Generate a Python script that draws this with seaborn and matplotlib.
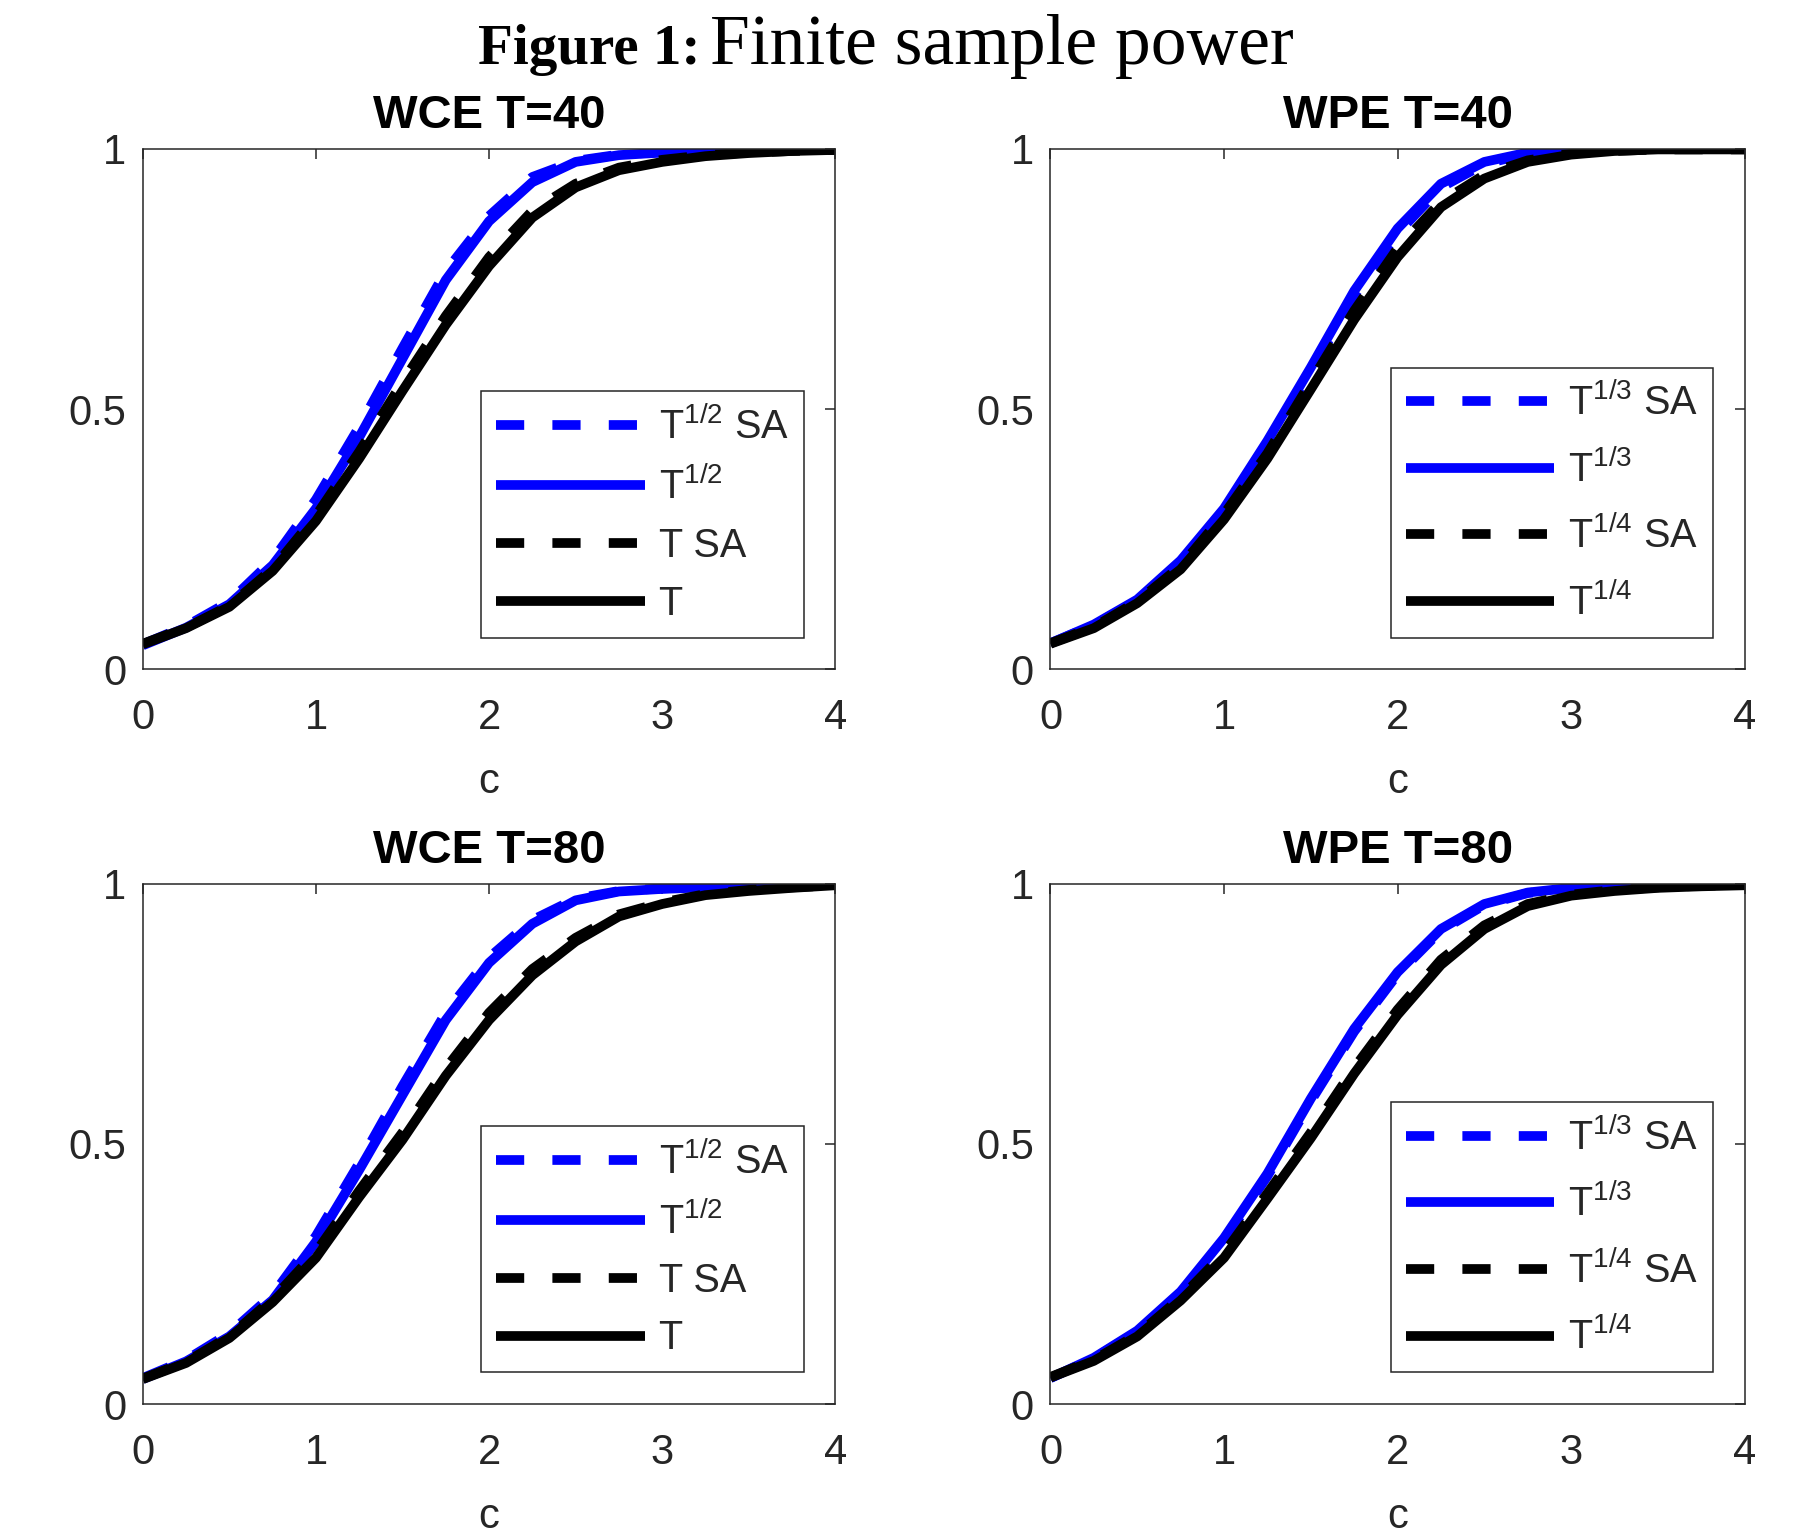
# -*- coding: utf-8 -*-
import numpy as np
import pandas as pd
import matplotlib
matplotlib.use('Agg')
import matplotlib.pyplot as plt
import seaborn as sns

# 横轴 c
c = [0, 0.25, 0.5, 0.75, 1.0, 1.25, 1.5, 1.75, 2.0, 2.25, 2.5, 2.75, 3.0, 3.25, 3.5, 3.75, 4.0]

# WCE T=40
wce40_half_sa = [0.048, 0.083, 0.130, 0.210, 0.326, 0.466, 0.617, 0.765, 0.871, 0.946, 0.977, 0.989, 0.994, 0.997, 0.998, 0.999, 0.999]
wce40_half = [0.046, 0.080, 0.125, 0.200, 0.309, 0.446, 0.597, 0.748, 0.861, 0.936, 0.975, 0.988, 0.993, 0.996, 0.998, 0.999, 0.999]
wce40_t_sa = [0.049, 0.080, 0.122, 0.193, 0.295, 0.418, 0.552, 0.679, 0.792, 0.881, 0.933, 0.964, 0.979, 0.988, 0.993, 0.996, 0.998]
wce40_t = [0.048, 0.079, 0.120, 0.189, 0.285, 0.405, 0.535, 0.662, 0.775, 0.868, 0.926, 0.959, 0.975, 0.986, 0.992, 0.996, 0.998]

# WPE T=40
wpe40_third_sa = [0.050, 0.085, 0.132, 0.205, 0.303, 0.430, 0.572, 0.718, 0.838, 0.926, 0.971, 0.991, 0.996, 0.999, 1.0, 1.0, 1.0]
wpe40_third = [0.050, 0.086, 0.134, 0.209, 0.309, 0.439, 0.580, 0.727, 0.847, 0.933, 0.975, 0.993, 0.997, 1.0, 1.0, 1.0, 1.0]
wpe40_quarter_sa = [0.050, 0.081, 0.130, 0.198, 0.298, 0.415, 0.552, 0.689, 0.809, 0.898, 0.950, 0.978, 0.991, 0.996, 0.999, 0.999, 0.999]
wpe40_quarter = [0.049, 0.079, 0.127, 0.192, 0.288, 0.405, 0.538, 0.672, 0.792, 0.888, 0.943, 0.975, 0.989, 0.996, 0.999, 0.999, 0.999]

# WCE T=80
wce80_half_sa = [0.050, 0.085, 0.136, 0.210, 0.323, 0.463, 0.611, 0.752, 0.858, 0.930, 0.971, 0.986, 0.991, 0.994, 0.996, 0.998, 1.0]
wce80_half = [0.048, 0.082, 0.130, 0.200, 0.312, 0.450, 0.594, 0.738, 0.848, 0.923, 0.968, 0.985, 0.990, 0.993, 0.995, 0.998, 1.0]
wce80_t_sa = [0.049, 0.081, 0.130, 0.202, 0.292, 0.410, 0.522, 0.645, 0.752, 0.836, 0.896, 0.941, 0.964, 0.980, 0.988, 0.993, 0.997]
wce80_t = [0.048, 0.079, 0.127, 0.196, 0.281, 0.398, 0.508, 0.631, 0.738, 0.824, 0.889, 0.937, 0.961, 0.978, 0.986, 0.992, 0.997]

# WPE T=80
wpe80_third_sa = [0.050, 0.088, 0.139, 0.213, 0.315, 0.438, 0.582, 0.716, 0.826, 0.910, 0.959, 0.982, 0.991, 0.995, 0.997, 0.998, 0.999]
wpe80_third = [0.050, 0.089, 0.141, 0.216, 0.319, 0.443, 0.587, 0.721, 0.830, 0.913, 0.961, 0.983, 0.992, 0.995, 0.997, 0.998, 0.999]
wpe80_quarter_sa = [0.052, 0.085, 0.133, 0.204, 0.290, 0.405, 0.522, 0.646, 0.758, 0.854, 0.920, 0.961, 0.979, 0.988, 0.993, 0.996, 0.998]
wpe80_quarter = [0.051, 0.083, 0.130, 0.199, 0.281, 0.395, 0.511, 0.635, 0.748, 0.844, 0.913, 0.957, 0.977, 0.986, 0.992, 0.995, 0.997]

wce_labels = [r'$\mathregular{T^{1/2}}$ SA', r'$\mathregular{T^{1/2}}$', 'T SA', 'T']
wpe_labels = [r'$\mathregular{T^{1/3}}$ SA', r'$\mathregular{T^{1/3}}$',
              r'$\mathregular{T^{1/4}}$ SA', r'$\mathregular{T^{1/4}}$']

sns.set_theme(style='white')
plt.rcParams['font.family'] = ['Liberation Sans', 'DejaVu Sans']
plt.rcParams['mathtext.fontset'] = 'custom'
plt.rcParams['mathtext.rm'] = 'Liberation Sans'

GRAY = '#262626'
LW = 7.0
DASH = (0, (2.9, 2.9))
colors = ['#0000ff', '#0000ff', 'black', 'black']
styles = [DASH, '-', DASH, '-']


def draw_panel(ax, title, series, labels, spacing):
    for vals, lab, col, ls in zip(series, labels, colors, styles):
        sns.lineplot(x=c, y=vals, ax=ax, color=col, linestyle=ls, linewidth=LW,
                     label=lab, solid_capstyle='butt', dash_capstyle='butt')
    ax.set_xlim(0, 4)
    ax.set_ylim(0, 1)
    ax.set_xticks([0, 1, 2, 3, 4])
    ax.set_xticklabels(['0', '1', '2', '3', '4'])
    ax.set_yticks([0, 0.5, 1])
    ax.set_yticklabels(['0', '0.5', '1'])
    ax.tick_params(direction='in', length=7, width=1.1, top=True, right=True,
                   labelsize=30, colors=GRAY, pad=12)
    ax.tick_params(axis='x', pad=21)
    for sp in ax.spines.values():
        sp.set_color(GRAY)
        sp.set_linewidth(1.1)
    ax.set_xlabel('c', fontsize=30, color=GRAY, labelpad=17)
    ax.set_ylabel('')
    ax.set_title(title, fontsize=34, fontweight='bold', color='black', pad=15)
    leg = ax.legend(loc='lower right', fontsize=28.5, handlelength=3.75,
                    handletextpad=0.35, borderpad=0.38, labelspacing=spacing,
                    borderaxespad=0.8, fancybox=False, framealpha=1,
                    edgecolor=GRAY)
    leg.get_frame().set_linewidth(1.1)


fig = plt.figure(figsize=(18.08, 15.35), dpi=100)
ax1 = fig.add_axes([0.079, 0.564, 0.383, 0.339])
ax2 = fig.add_axes([0.581, 0.564, 0.384, 0.339])
ax3 = fig.add_axes([0.079, 0.0853, 0.383, 0.339])
ax4 = fig.add_axes([0.581, 0.0853, 0.384, 0.339])

draw_panel(ax1, 'WCE T=40', [wce40_half_sa, wce40_half, wce40_t_sa, wce40_t], wce_labels, 0.5)
draw_panel(ax2, 'WPE T=40', [wpe40_third_sa, wpe40_third, wpe40_quarter_sa, wpe40_quarter], wpe_labels, 0.66)
draw_panel(ax3, 'WCE T=80', [wce80_half_sa, wce80_half, wce80_t_sa, wce80_t], wce_labels, 0.5)
draw_panel(ax4, 'WPE T=80', [wpe80_third_sa, wpe80_third, wpe80_quarter_sa, wpe80_quarter], wpe_labels, 0.66)

# 总标题
fig.text(0.3877, 0.958, 'Figure 1:', ha='right', va='baseline', fontsize=41,
         fontweight='bold', color='black', family=['Liberation Serif', 'DejaVu Serif'])
fig.text(0.3925, 0.958, 'Finite sample power', ha='left', va='baseline', fontsize=51.5,
         color='black', family=['Liberation Serif', 'DejaVu Serif'])

plt.savefig('out.png', dpi=100)
